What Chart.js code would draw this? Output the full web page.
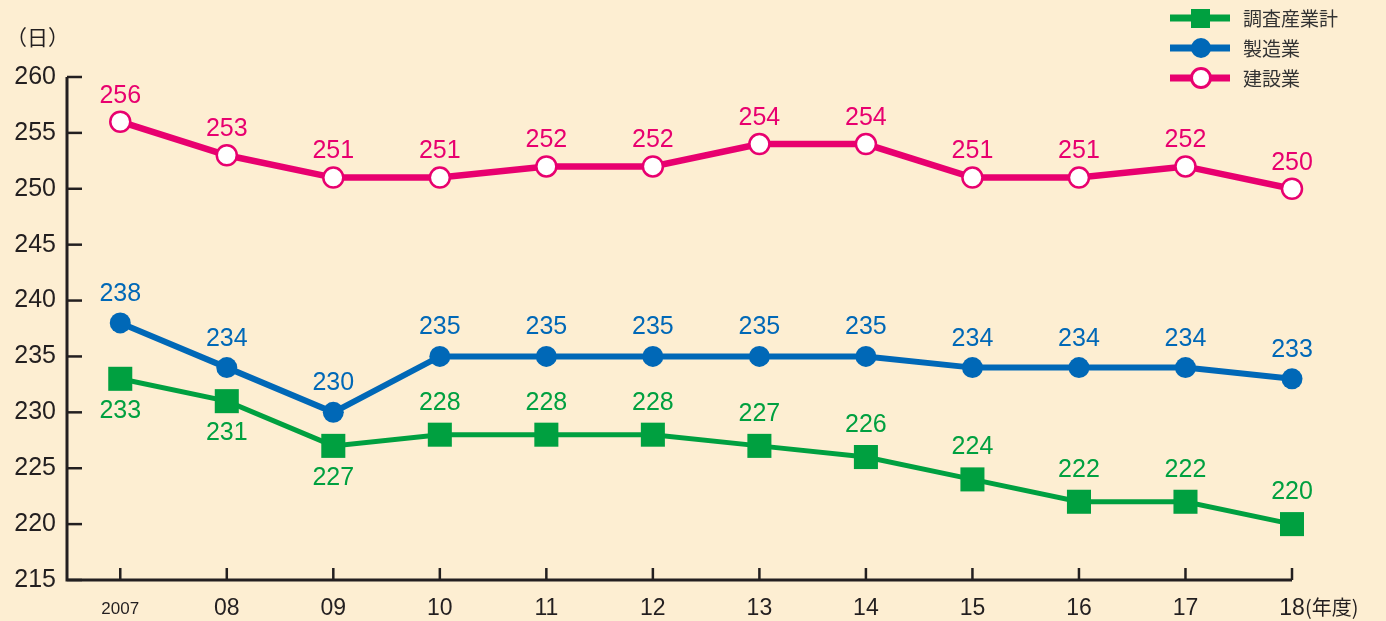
<!DOCTYPE html>
<html>
<head>
<meta charset="utf-8">
<script src="https://cdn.jsdelivr.net/npm/chart.js@4.4.1/dist/chart.umd.min.js"></script>
<style>
  html, body { margin: 0; padding: 0; background: #fdeed2; }
  #wrap { width: 1386px; height: 621px; position: relative; }
</style>
</head>
<body>
<div id="wrap"><canvas id="days-chart" width="1386" height="621"></canvas></div>
<script>
var YEARS = ['2007', '08', '09', '10', '11', '12', '13', '14', '15', '16', '17', '18'];
var TOTAL = [233, 231, 227, 228, 228, 228, 227, 226, 224, 222, 222, 220];
var MANUFACTURING = [238, 234, 230, 235, 235, 235, 235, 235, 234, 234, 234, 233];
var CONSTRUCTION = [256, 253, 251, 251, 252, 252, 254, 254, 251, 251, 252, 250];
var Y_TICKS = [215, 220, 225, 230, 235, 240, 245, 250, 255, 260];

var GREEN = '#00a040';
var BLUE = '#0068b7';
var PINK = '#e8006f';
var INK = '#231f20';
var FONT = '"Liberation Sans", Arial, sans-serif';
var JP_FONT = '"Noto Sans CJK JP", sans-serif';

// green labels sit below the point for the first three years
var GREEN_BELOW = [true, true, true, false, false, false, false, false, false, false, false, false];

function toPoints(arr) {
  return arr.map(function (v, i) { return { x: i, y: v }; });
}

var decorPlugin = {
  id: 'decor',
  beforeDatasetsDraw: function (chart) {
    var ctx = chart.ctx;
    var xs = chart.scales.x;
    var ys = chart.scales.y;
    var area = chart.chartArea;
    ctx.save();

    // axes
    ctx.strokeStyle = INK;
    ctx.lineWidth = 3;
    ctx.beginPath();
    ctx.moveTo(area.left, area.top);
    ctx.lineTo(area.left, area.bottom);
    ctx.lineTo(area.right, area.bottom);
    ctx.stroke();

    ctx.lineWidth = 2.5;
    Y_TICKS.forEach(function (t) {
      var y = ys.getPixelForValue(t);
      ctx.beginPath();
      ctx.moveTo(area.left, y);
      ctx.lineTo(area.left + 15, y);
      ctx.stroke();
    });
    YEARS.forEach(function (lab, i) {
      var x = xs.getPixelForValue(i);
      ctx.beginPath();
      ctx.moveTo(x, area.bottom);
      ctx.lineTo(x, area.bottom - 12);
      ctx.stroke();
    });

    // tick labels
    ctx.fillStyle = INK;
    ctx.textAlign = 'right';
    ctx.textBaseline = 'middle';
    ctx.font = '25px ' + FONT;
    Y_TICKS.forEach(function (t) {
      ctx.fillText(String(t), 56, ys.getPixelForValue(t));
    });
    ctx.textAlign = 'center';
    YEARS.forEach(function (lab, i) {
      ctx.font = (i === 0 ? '17px ' : '23px ') + FONT;
      ctx.fillText(lab, xs.getPixelForValue(i), 609);
    });
    ctx.textAlign = 'left';
    ctx.font = '20px ' + JP_FONT;
    ctx.fillText('(年度)', 1305, 607);
    ctx.font = '21px ' + JP_FONT;
    ctx.fillText('（日）', 6, 37);
    ctx.restore();
  },
  afterDatasetsDraw: function (chart) {
    var ctx = chart.ctx;
    var xs = chart.scales.x;
    var ys = chart.scales.y;
    ctx.save();
    ctx.textBaseline = 'middle';

    // value labels
    ctx.font = '25px ' + FONT;
    ctx.textAlign = 'center';
    ctx.fillStyle = PINK;
    CONSTRUCTION.forEach(function (v, i) {
      ctx.fillText(String(v), xs.getPixelForValue(i), ys.getPixelForValue(v) - 26);
    });
    ctx.fillStyle = BLUE;
    MANUFACTURING.forEach(function (v, i) {
      ctx.fillText(String(v), xs.getPixelForValue(i), ys.getPixelForValue(v) - 29);
    });
    ctx.fillStyle = GREEN;
    TOTAL.forEach(function (v, i) {
      var off = GREEN_BELOW[i] ? 32 : -32;
      ctx.fillText(String(v), xs.getPixelForValue(i), ys.getPixelForValue(v) + off);
    });

    // legend
    var items = [
      { label: '調査産業計', color: GREEN, kind: 'square', y: 18 },
      { label: '製造業', color: BLUE, kind: 'dot', y: 48 },
      { label: '建設業', color: PINK, kind: 'ring', y: 78 }
    ];
    items.forEach(function (it) {
      ctx.strokeStyle = it.color;
      ctx.lineWidth = 7;
      ctx.beginPath();
      ctx.moveTo(1170, it.y);
      ctx.lineTo(1230, it.y);
      ctx.stroke();
      if (it.kind === 'square') {
        ctx.fillStyle = it.color;
        ctx.fillRect(1191, it.y - 9, 19, 19);
      } else if (it.kind === 'dot') {
        ctx.fillStyle = it.color;
        ctx.beginPath();
        ctx.arc(1201, it.y, 10, 0, Math.PI * 2);
        ctx.fill();
      } else {
        ctx.fillStyle = '#ffffff';
        ctx.lineWidth = 3;
        ctx.beginPath();
        ctx.arc(1201, it.y, 9.5, 0, Math.PI * 2);
        ctx.fill();
        ctx.stroke();
      }
      ctx.fillStyle = '#333333';
      ctx.textAlign = 'left';
      ctx.font = '19px ' + JP_FONT;
      ctx.fillText(it.label, 1243, it.y + 1);
    });

    ctx.restore();
  }
};

var ctx = document.getElementById('days-chart').getContext('2d');
var daysChart = new Chart(ctx, {
  type: 'line',
  data: {
    datasets: [{
      label: '調査産業計',
      data: toPoints(TOTAL),
      borderColor: GREEN,
      backgroundColor: GREEN,
      borderWidth: 5,
      pointStyle: 'rect',
      pointRadius: 17,
      pointBorderWidth: 0,
      pointBackgroundColor: GREEN,
      clip: false,
    }, {
      label: '製造業',
      data: toPoints(MANUFACTURING),
      borderColor: BLUE,
      backgroundColor: BLUE,
      borderWidth: 6,
      pointStyle: 'circle',
      pointRadius: 10.5,
      pointBorderWidth: 0,
      pointBackgroundColor: BLUE,
      clip: false,
    }, {
      label: '建設業',
      data: toPoints(CONSTRUCTION),
      borderColor: PINK,
      backgroundColor: '#ffffff',
      borderWidth: 6.5,
      pointStyle: 'circle',
      pointRadius: 10,
      pointBorderWidth: 2.5,
      pointBorderColor: PINK,
      pointBackgroundColor: '#ffffff',
      clip: false,
    }],
  },
  options: {
    responsive: false,
    animation: false,
    layout: { padding: { left: 67, right: 94, top: 77, bottom: 41 } },
    scales: {
      x: { type: 'linear', min: -0.5, max: 11, display: false },
      y: { min: 215, max: 260, display: false },
    },
    plugins: {
      legend: { display: false },
      tooltip: { enabled: false },
    },
  },
  plugins: [decorPlugin],
});
</script>
</body>
</html>
